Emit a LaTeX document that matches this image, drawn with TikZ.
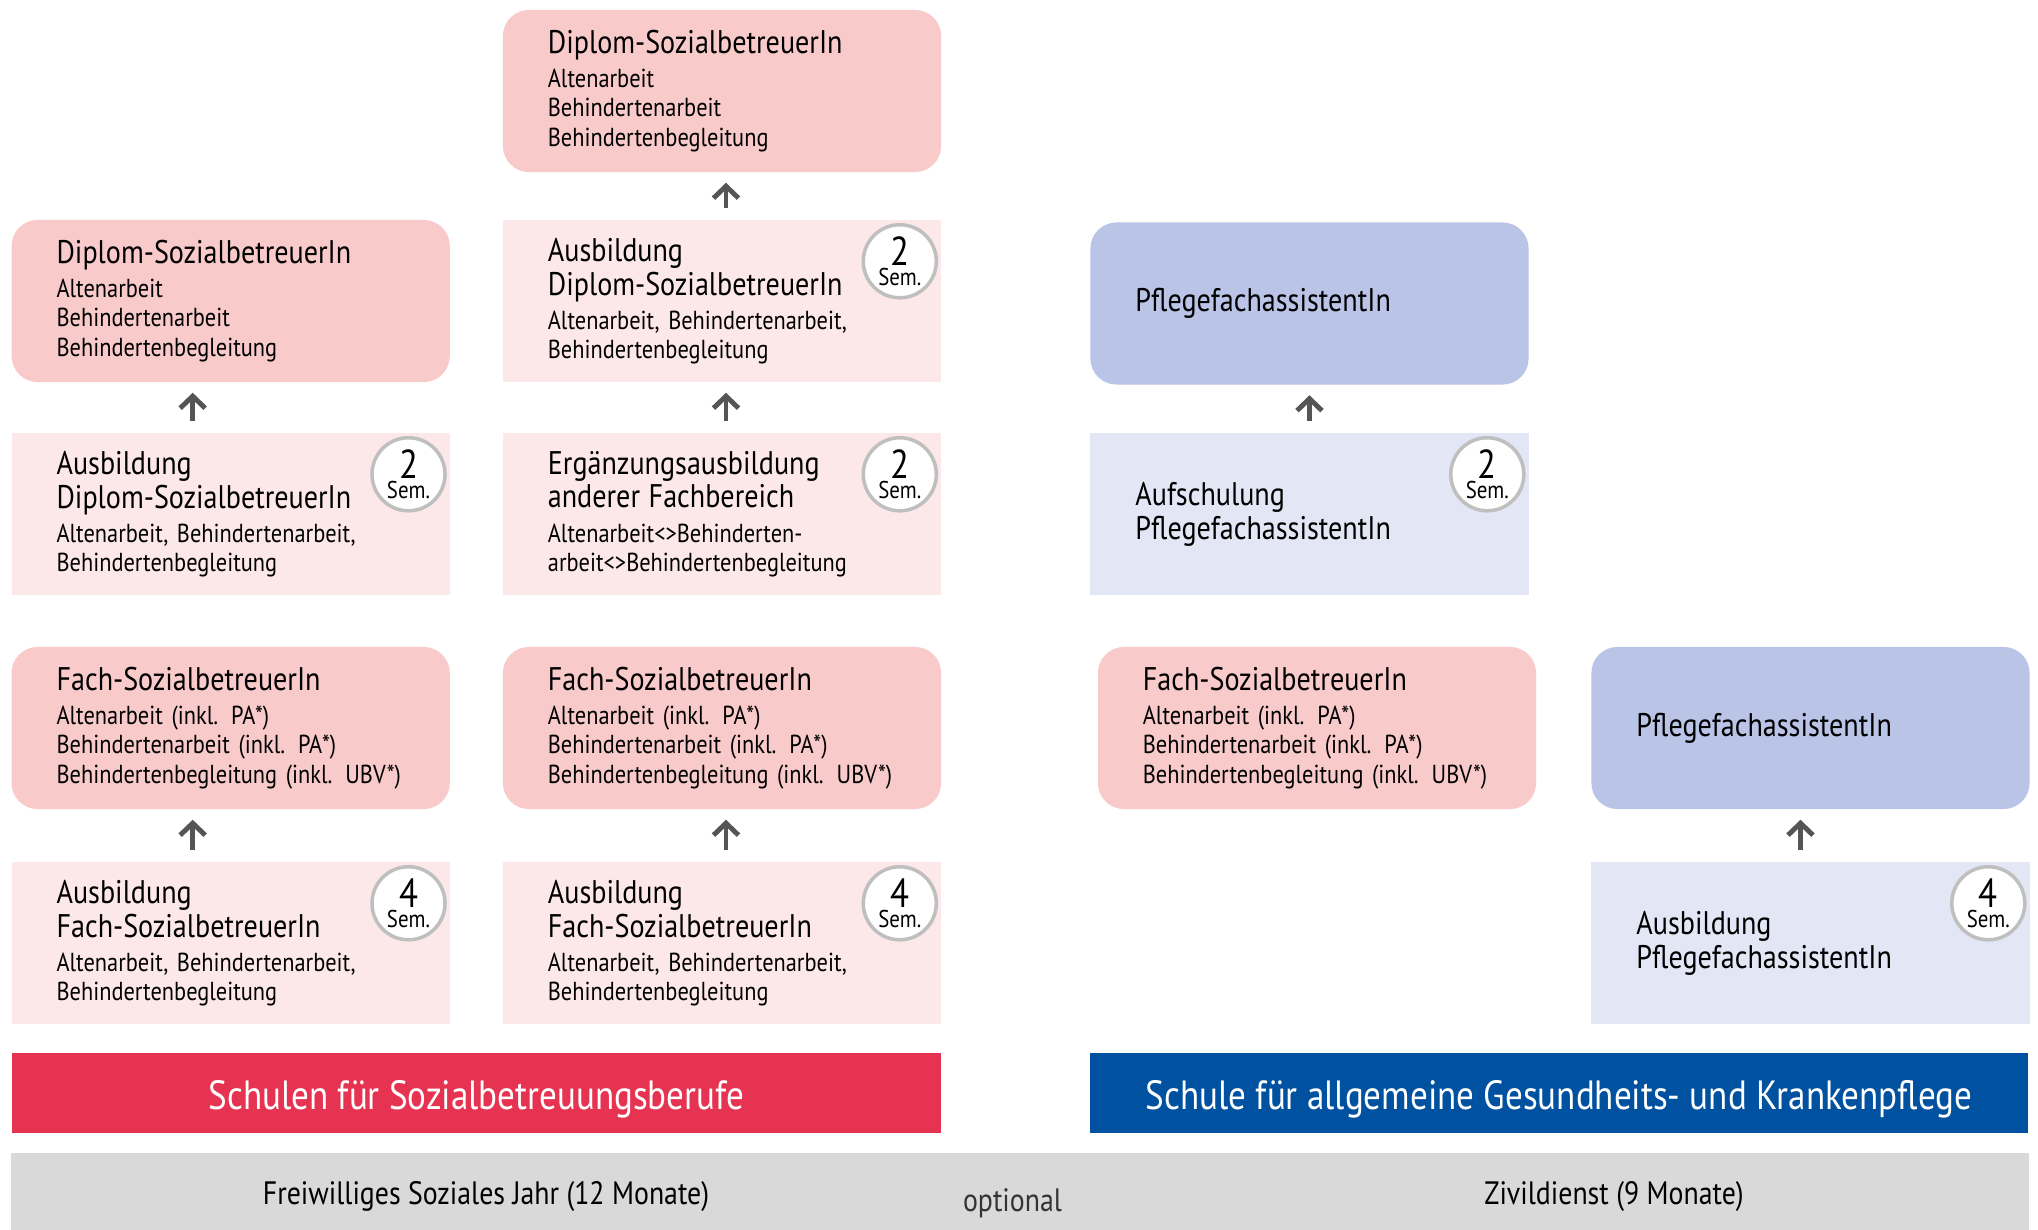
\documentclass[tikz,border=0pt]{standalone}
\usepackage{fontspec}
\setmainfont[FakeStretch=0.86]{PT Sans}
\usetikzlibrary{arrows.meta}

\definecolor{rosa}{HTML}{F8CACA}
\definecolor{rosahell}{HTML}{FCE8E8}
\definecolor{blau}{HTML}{BAC4E6}
\definecolor{blauhell}{HTML}{E3E6F5}
\definecolor{rot}{HTML}{E63351}
\definecolor{dunkelblau}{HTML}{0052A0}
\definecolor{grau}{HTML}{D9D9D9}
\definecolor{pfeilgrau}{HTML}{555555}

\newcommand{\tit}[1]{{\fontsize{9.3}{9.7}\selectfont #1}}
\newcommand{\badge}[3]{\node[semkreis] (#1) at ([xshift=-0.42cm,yshift=-0.42cm]#2.north east) {{\fontsize{11.5}{11.5}\selectfont #3}\\[-6.2pt]{\fontsize{6.9}{6.9}\selectfont Sem.}};}

\tikzset{
	kasten/.style={rectangle, minimum width=4.38cm, minimum height=1.62cm, inner xsep=0.45cm, inner ysep=0pt, text width=3.48cm, align=left, font=\fontsize{7.4}{8.3}\selectfont},
	diplom/.style={kasten, fill=rosa, rounded corners=0.26cm},
	ausbildung/.style={kasten, fill=rosahell},
	pflege/.style={kasten, fill=blau, rounded corners=0.26cm},
	aufschulung/.style={kasten, fill=blauhell},
	semkreis/.style={circle, draw=black!25, line width=1pt, fill=white, minimum size=0.73cm, inner sep=0pt, align=center},
	pfeil/.style={->, draw=pfeilgrau, line width=1.4pt, shorten >=0.1cm, shorten <=0.11cm},
	balken/.style={rectangle, minimum height=0.8cm, inner sep=0pt, text height=12pt, text depth=2.5pt, text=white, font=\fontsize{11.6}{12}\selectfont}
}

\begin{document}
\begin{tikzpicture}[x=0.01cm, y=-0.01cm, >={Straight Barb[length=1.2mm, width=2.5mm]}]
	\useasboundingbox (0,0) rectangle (2038,1230);
	%Diplom oben
	\node[diplom] (d0) at (722,91) {\tit{Diplom-SozialbetreuerIn}\\[1.4pt]Altenarbeit\\Behindertenarbeit\\Behindertenbegleitung};
	%Reihe 2
	\node[diplom] (d1) at (230.7,301) {\tit{Diplom-SozialbetreuerIn}\\[1.4pt]Altenarbeit\\Behindertenarbeit\\Behindertenbegleitung};
	\node[ausbildung] (a2) at (722,301) {\tit{Ausbildung}\\\tit{Diplom-SozialbetreuerIn}\\[1.4pt]Altenarbeit, Behindertenarbeit,\\Behindertenbegleitung};
	\badge{s2}{a2}{2}
	\node[pflege] (p3) at (1309.5,303.5) {\tit{PflegefachassistentIn}};
	%Reihe 3
	\node[ausbildung] (a1) at (230.7,514) {\tit{Ausbildung}\\\tit{Diplom-SozialbetreuerIn}\\[1.4pt]Altenarbeit, Behindertenarbeit,\\Behindertenbegleitung};
	\badge{s1}{a1}{2}
	\node[ausbildung] (e2) at (722,514) {\tit{Ergänzungsausbildung}\\\tit{anderer Fachbereich}\\[1.4pt]Altenarbeit<>Behinderten-\\arbeit<>Behindertenbegleitung};
	\badge{s3}{e2}{2}
	\node[aufschulung] (u3) at (1309.5,514) {\tit{Aufschulung}\\\tit{PflegefachassistentIn}};
	\badge{s4}{u3}{2}
	%Reihe 4
	\node[diplom] (f1) at (230.7,728) {\tit{Fach-SozialbetreuerIn}\\[1.4pt]Altenarbeit (inkl. PA*)\\Behindertenarbeit (inkl. PA*)\\Behindertenbegleitung (inkl. UBV*)};
	\node[diplom] (f2) at (722,728) {\tit{Fach-SozialbetreuerIn}\\[1.4pt]Altenarbeit (inkl. PA*)\\Behindertenarbeit (inkl. PA*)\\Behindertenbegleitung (inkl. UBV*)};
	\node[diplom] (f3) at (1317,728) {\tit{Fach-SozialbetreuerIn}\\[1.4pt]Altenarbeit (inkl. PA*)\\Behindertenarbeit (inkl. PA*)\\Behindertenbegleitung (inkl. UBV*)};
	\node[pflege] (p4) at (1810.5,728) {\tit{PflegefachassistentIn}};
	%Reihe 5
	\node[ausbildung] (b1) at (230.7,943) {\tit{Ausbildung}\\\tit{Fach-SozialbetreuerIn}\\[1.4pt]Altenarbeit, Behindertenarbeit,\\Behindertenbegleitung};
	\badge{s5}{b1}{4}
	\node[ausbildung] (b2) at (722,943) {\tit{Ausbildung}\\\tit{Fach-SozialbetreuerIn}\\[1.4pt]Altenarbeit, Behindertenarbeit,\\Behindertenbegleitung};
	\badge{s6}{b2}{4}
	\node[aufschulung] (b4) at (1810.5,943) {\tit{Ausbildung}\\\tit{PflegefachassistentIn}};
	\badge{s7}{b4}{4}
	%Schulen
	\node[balken, fill=rot, minimum width=9.29cm] (sozial) at (476.4,1093) {Schulen für Sozialbetreuungsberufe};
	\node[balken, fill=dunkelblau, minimum width=9.37cm] (kranken) at (1559,1093) {Schule für allgemeine Gesundheits- und Krankenpflege};
	%optional
	\node[balken, fill=grau, minimum width=20.17cm, minimum height=0.77cm] (grund) at (1020.4,1191.5) {};
	\node[font=\fontsize{9.2}{10}\selectfont] (fsj) at (486,1197) {Freiwilliges Soziales Jahr (12 Monate)};
	\node[font=\fontsize{9.2}{10}\selectfont, text=black!80] (opt) at (1012.5,1203) {optional};
	\node[font=\fontsize{9.2}{10}\selectfont] (zivi) at (1614,1197) {Zivildienst (9 Monate)};
	%Pfeile
	\draw[pfeil] ([xshift=0.04cm]a2.north) -- ([xshift=0.04cm]d0.south);
	\draw[pfeil] ([xshift=-0.38cm]a1.north) -- ([xshift=-0.38cm]d1.south);
	\draw[pfeil] ([xshift=0.04cm]e2.north) -- ([xshift=0.04cm]a2.south);
	\draw[pfeil] (u3) -- (p3);
	\draw[pfeil] ([xshift=-0.38cm]b1.north) -- ([xshift=-0.38cm]f1.south);
	\draw[pfeil] ([xshift=0.04cm]b2.north) -- ([xshift=0.04cm]f2.south);
	\draw[pfeil] ([xshift=-0.1cm]b4.north) -- ([xshift=-0.1cm]p4.south);
\end{tikzpicture}
\end{document}
